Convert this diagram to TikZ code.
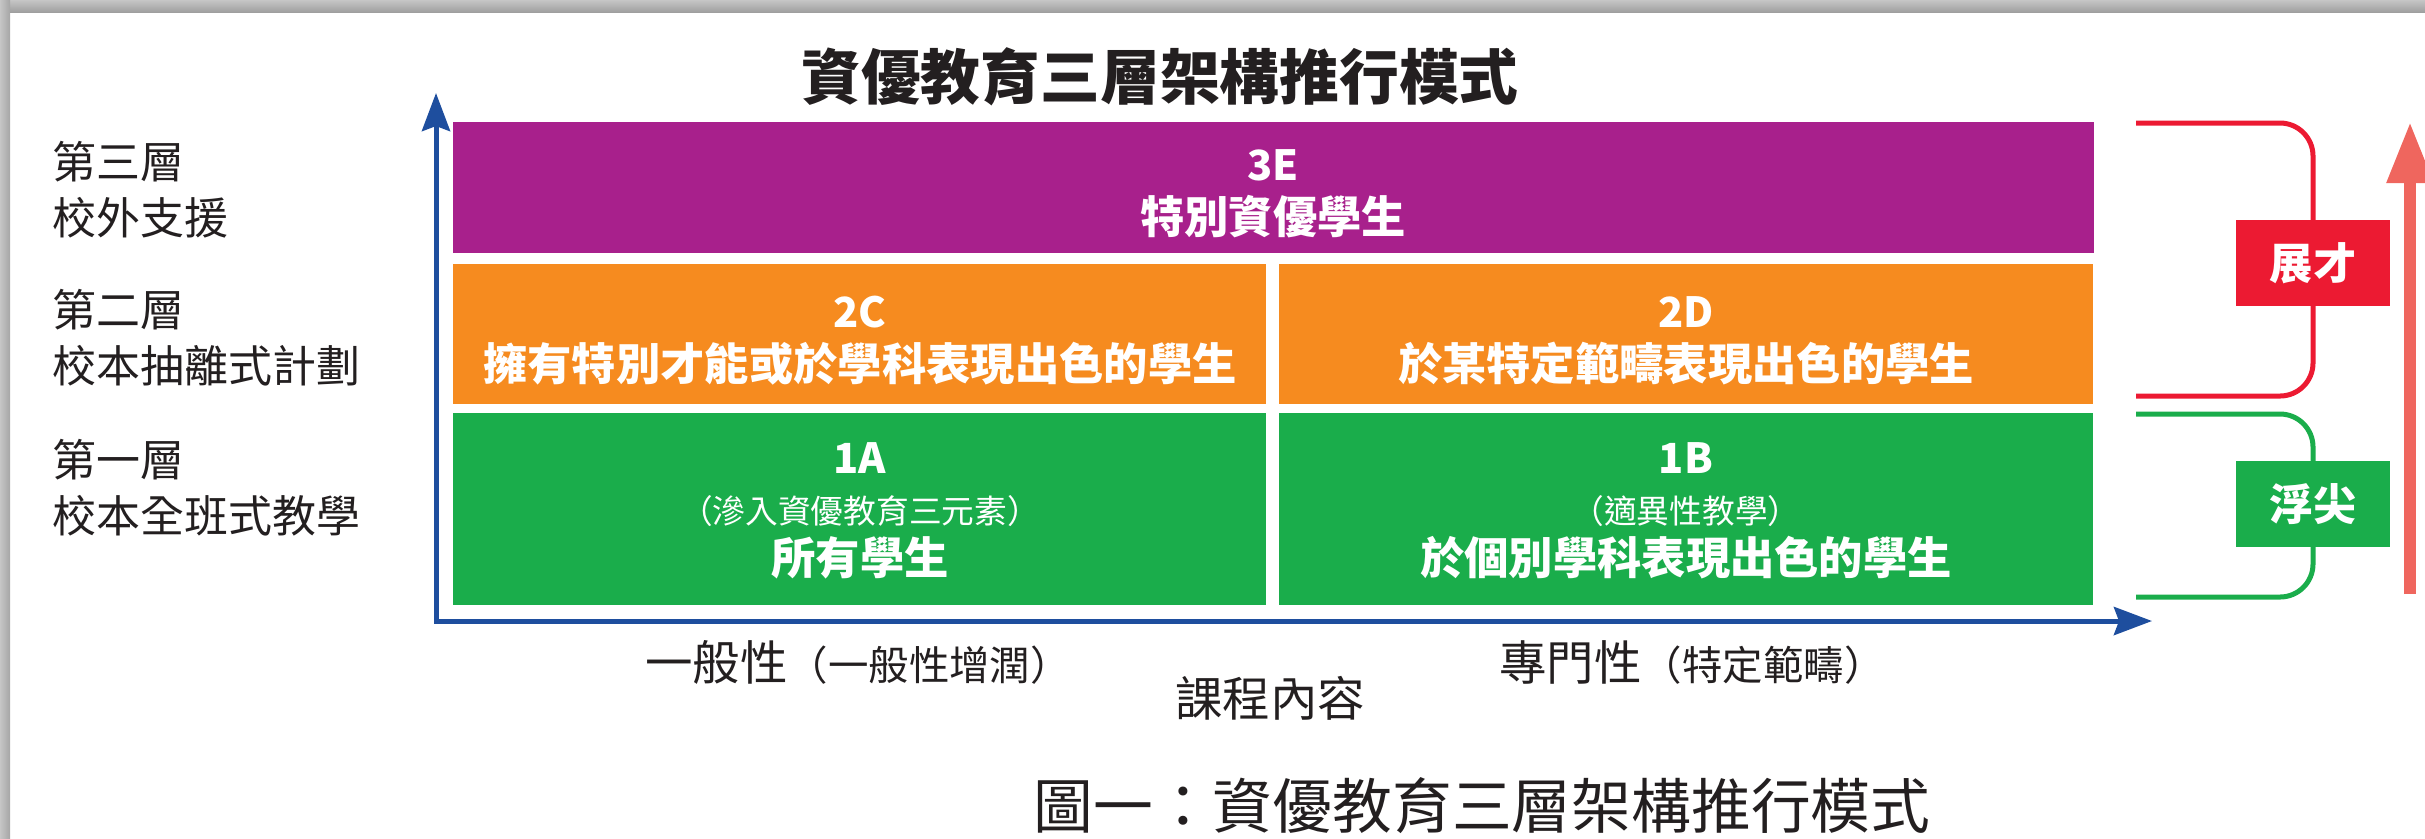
\documentclass[tikz,border=0pt]{standalone}
\usepackage{fontspec}
\setmainfont{Noto Sans CJK TC}
\usetikzlibrary{arrows.meta}

\definecolor{tierpurple}{RGB}{168,32,140}
\definecolor{tierorange}{RGB}{246,139,31}
\definecolor{tiergreen}{RGB}{26,173,75}
\definecolor{axisblue}{RGB}{30,78,158}
\definecolor{tierred}{RGB}{236,26,50}
\definecolor{arrowred}{RGB}{239,102,94}
\definecolor{inkgray}{RGB}{35,31,32}

\tikzset{
	tier/.style={inner sep=0pt, outer sep=0pt},
	codetext/.style={text=white, font=\bfseries\fontsize{11.8pt}{14pt}\selectfont},
	boxtext/.style={text=white, font=\bfseries\fontsize{12.6pt}{15pt}\selectfont},
	subtext/.style={text=white, font=\fontsize{9.3pt}{11pt}\selectfont},
	layertext/.style={anchor=west, align=left, inner sep=0pt, text=inkgray, font=\fontsize{12.5pt}{15.9pt}\selectfont},
	axistext/.style={text=inkgray, font=\fontsize{13.5pt}{16pt}\selectfont},
	tag/.style={tier, text=white, font=\bfseries\fontsize{12.3pt}{14pt}\selectfont, minimum width=1.53cm, minimum height=0.86cm},
	bracket/.style={line width=0.05cm, rounded corners=0.33cm},
}

\begin{document}
\begin{tikzpicture}[x=0.01cm, y=-0.01cm]
	\useasboundingbox (0,0) rectangle (2425,838);
	% screenshot edge
	\shade[top color=gray!45, bottom color=gray!75] (0,0) rectangle (2425,12);
	\shade[left color=gray!45, right color=gray!70] (0,0) rectangle (10,838);

	\node[text=inkgray, font=\bfseries\fontsize{17pt}{20pt}\selectfont] (title) at (1160,77) {資優教育三層架構推行模式};

	% layers
	\node[layertext] (l3) at (52,189.5) {第三層\\校外支援};
	\node[layertext] (l2) at (52,338) {第二層\\校本抽離式計劃};
	\node[layertext] (l1) at (52,488) {第一層\\校本全班式教學};

	% tiers
	\node[tier, fill=tierpurple, minimum width=16.4cm, minimum height=1.31cm] (E) at (1273,187.5) {};
	\node[tier, fill=tierorange, minimum width=8.13cm, minimum height=1.4cm] (C) at (859.5,334) {};
	\node[tier, fill=tierorange, minimum width=8.14cm, minimum height=1.4cm] (D) at (1686,334) {};
	\node[tier, fill=tiergreen, minimum width=8.13cm, minimum height=1.92cm] (A) at (859.5,509) {};
	\node[tier, fill=tiergreen, minimum width=8.14cm, minimum height=1.92cm] (B) at (1686,509) {};

	\node[codetext] (Ecode) at (1273,165) {3E};
	\node[boxtext] (Etext) at (1273,217) {特別資優學生};
	\node[codetext] (Ccode) at (860,312) {2C};
	\node[boxtext] (Ctext) at (860,364) {擁有特別才能或於學科表現出色的學生};
	\node[codetext] (Dcode) at (1686,312) {2D};
	\node[boxtext] (Dtext) at (1686,364) {於某特定範疇表現出色的學生};
	\node[codetext] (Acode) at (860,458) {1A};
	\node[subtext] (Asub) at (860,511) {（滲入資優教育三元素）};
	\node[boxtext] (Atext) at (860,558) {所有學生};
	\node[codetext] (Bcode) at (1686,458) {1B};
	\node[subtext] (Bsub) at (1686,511) {（適異性教學）};
	\node[boxtext] (Btext) at (1686,558) {於個別學科表現出色的學生};

	% axes
	\coordinate (origin) at (436,621);
	\coordinate (ytip) at (436,93);
	\coordinate (xtip) at (2152,621);
	\draw[axisblue, line width=0.05cm, {Stealth[length=0.38cm,width=0.28cm,inset=0.05cm]}-{Stealth[length=0.38cm,width=0.28cm,inset=0.05cm]}] (ytip) -- (origin) -- (xtip);

	\node[axistext] (general) at (858,662) {一般性{\fontsize{11.5pt}{14pt}\selectfont（一般性增潤）}};
	\node[axistext] (special) at (1692,662) {專門性{\fontsize{11.5pt}{14pt}\selectfont（特定範疇）}};
	\node[axistext] (content) at (1270,698) {課程內容};

	% brackets on the right
	\coordinate (rtop) at (2136,123);
	\coordinate (rbot) at (2136,396);
	\coordinate (gtop) at (2136,414);
	\coordinate (gbot) at (2136,597);
	\draw[bracket, tierred] (rtop) -| (2313,263) |- (rbot);
	\draw[bracket, tiergreen] (gtop) -| (2313,504) |- (gbot);
	\node[tag, fill=tierred] (talent) at (2313,263) {展才};
	\node[tag, fill=tiergreen] (emerge) at (2313,504) {浮尖};

	\coordinate (upbot) at (2410,594);
	\coordinate (uptop) at (2410,122);
	\draw[arrowred, line width=0.12cm, -{Triangle[length=0.61cm,width=0.44cm]}] (upbot) -- (uptop);

	\node[text=inkgray, font=\fontsize{17pt}{20pt}\selectfont] (caption) at (1482,806) {圖一：資優教育三層架構推行模式};
\end{tikzpicture}
\end{document}
